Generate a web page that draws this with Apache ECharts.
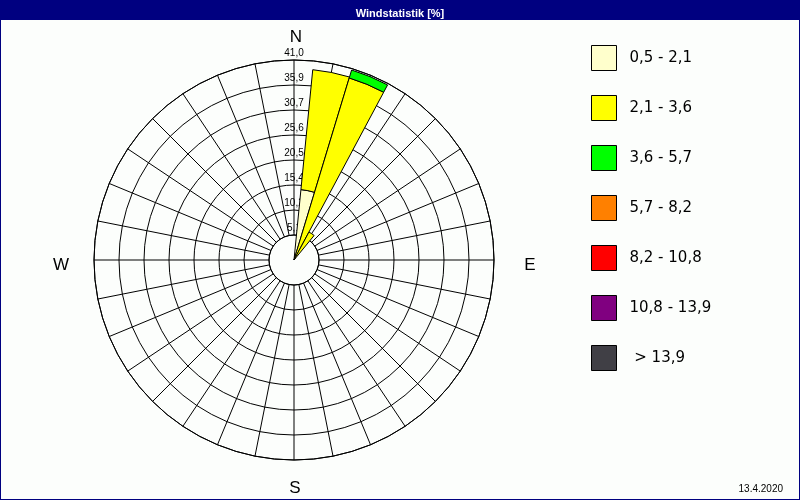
<!DOCTYPE html>
<html>
<head>
<meta charset="utf-8">
<script src="https://cdn.jsdelivr.net/npm/echarts@6/dist/echarts.min.js"></script>
<style>
html,body{margin:0;padding:0;background:#fcfefc;}
#chart{width:800px;height:500px;}
</style>
</head>
<body>
<div id="chart"></div>
<script>
// 32 wind directions, clockwise from north
const directions = ['N','NzO','NNO','NOzN','NO','NOzO','ONO','OzN','O','OzS','OSO','SOzO','SO','SOzS','SSO','SzO',
                    'S','SzW','SSW','SWzS','SW','SWzW','WSW','WzS','W','WzN','WNW','NWzW','NW','NWzN','NNW','NzW'];
// speed classes (legend)
const speedClasses = ['0,5 - 2,1','2,1 - 3,6','3,6 - 5,7','5,7 - 8,2','8,2 - 10,8','10,8 - 13,9',' > 13,9'];
const classColors = ['#ffffcc','#ffff00','#00ff00','#ff8000','#ff0000','#800080','#403f45'];
// frequency [%] per direction for each class
const cls1 = [0,14.5,0.4,0.5,0,0,0,0,0,0,0,0,0,0,0,0,0,0,0,0,0,0,0,0,0,0,0,0,0,0,0,0];
const cls2 = [0,24.7,38.6,6.0,0,0,0,0,0,0,0,0,0,0,0,0,0,0,0,0,0,0,0,0,0,0,0,0,0,0,0,0];
const cls3 = [0,0,1.7,0,0,0,0,0,0,0,0,0,0,0,0,0,0,0,0,0,0,0,0,0,0,0,0,0,0,0,0,0];
const cls4 = [0,0,0,0,0,0,0,0,0,0,0,0,0,0,0,0,0,0,0,0,0,0,0,0,0,0,0,0,0,0,0,0];
const cls5 = [0,0,0,0,0,0,0,0,0,0,0,0,0,0,0,0,0,0,0,0,0,0,0,0,0,0,0,0,0,0,0,0];
const cls6 = [0,0,0,0,0,0,0,0,0,0,0,0,0,0,0,0,0,0,0,0,0,0,0,0,0,0,0,0,0,0,0,0];
const cls7 = [0,0,0,0,0,0,0,0,0,0,0,0,0,0,0,0,0,0,0,0,0,0,0,0,0,0,0,0,0,0,0,0];
// ring labels
const ringLabels = ['5,1','10,2','15,4','20,5','25,6','30,7','35,9','41,0'];
const ringStep = 5.125;
const radiusMax = 41;
const compass = ['N','E','S','W'];
const titleText = 'Windstatistik [%]';
const dateText = '13.4.2020';

const classData = [cls1,cls2,cls3,cls4,cls5,cls6,cls7];
const CX = 294, CY = 260, R = 200, R0 = 25;
const sector = 360 / directions.length;

const series = speedClasses.map((name, i) => ({
  name: name,
  type: 'bar',
  coordinateSystem: 'polar',
  polarIndex: 1,
  stack: 'wind',
  barCategoryGap: '0%',
  z: 5,
  itemStyle: {color: classColors[i], borderColor: '#000', borderWidth: 1},
  emphasis: {disabled: true},
  data: classData[i].map(v => v > 0 ? v : null)
}));

const chart = echarts.init(document.getElementById('chart'), null, {renderer: 'canvas'});
chart.setOption({
  animation: false,
  backgroundColor: '#fcfefc',
  title: {
    text: titleText, left: 'center', top: 3,
    textStyle: {color: '#ffffff', fontSize: 11, fontWeight: 'bold', fontFamily: 'Liberation Sans'}
  },
  legend: {
    orient: 'vertical', left: 591, top: 45, padding: 0,
    itemWidth: 25, itemHeight: 25, itemGap: 24, icon: 'rect',
    selectedMode: false,
    itemStyle: {borderColor: '#000', borderWidth: 1},
    textStyle: {fontSize: 15, fontFamily: 'DejaVu Sans', color: '#000', padding: [0,0,0,8]},
    data: speedClasses
  },
  polar: [
    {center: [CX, CY], radius: [R0, R]},
    {center: [CX, CY], radius: [0, R]}
  ],
  angleAxis: [
    {
      polarIndex: 0, type: 'value', min: 0, max: 360, interval: sector,
      startAngle: 90, clockwise: true,
      axisLine: {show: true, lineStyle: {color: '#000', width: 1}},
      axisTick: {show: false}, axisLabel: {show: false},
      splitLine: {show: true, lineStyle: {color: '#000', width: 1}}
    },
    {
      polarIndex: 1, type: 'category', data: directions,
      startAngle: 90 + sector / 2, clockwise: true,
      axisLine: {show: false}, axisTick: {show: false}, axisLabel: {show: false},
      splitLine: {show: false}
    }
  ],
  radiusAxis: [
    {
      polarIndex: 0, type: 'value', min: ringStep, max: radiusMax, interval: ringStep,
      axisLine: {show: false}, axisTick: {show: false},
      splitLine: {show: true, lineStyle: {color: '#000', width: 1}},
      axisLabel: {
        show: true, showMinLabel: true, showMaxLabel: true, margin: 0,
        align: 'center', verticalAlign: 'bottom', padding: [0,0,2,0],
        fontSize: 10, fontFamily: 'Liberation Sans', color: '#000',
        formatter: v => ringLabels[Math.round(v / ringStep) - 1] || ''
      },
      z: 1
    },
    {
      polarIndex: 1, type: 'value', min: 0, max: radiusMax, show: false
    }
  ],
  graphic: [
    {type: 'rect', shape: {x: 0, y: 0, width: 800, height: 20}, style: {fill: '#000080'}, z: -10},
    {type: 'rect', shape: {x: 0, y: 0, width: 800, height: 500}, style: {fill: null, stroke: '#000080', lineWidth: 2}, z: 10},
    {type: 'text', x: 296, y: 37, style: {text: compass[0], font: '17px "Liberation Sans"', fill: '#000', textAlign: 'center', textVerticalAlign: 'middle'}},
    {type: 'text', x: 530, y: 265, style: {text: compass[1], font: '17px "Liberation Sans"', fill: '#000', textAlign: 'center', textVerticalAlign: 'middle'}},
    {type: 'text', x: 295, y: 488, style: {text: compass[2], font: '17px "Liberation Sans"', fill: '#000', textAlign: 'center', textVerticalAlign: 'middle'}},
    {type: 'text', x: 61, y: 265, style: {text: compass[3], font: '17px "Liberation Sans"', fill: '#000', textAlign: 'center', textVerticalAlign: 'middle'}},
    {type: 'text', x: 783, y: 489, style: {text: dateText, font: '10px "Liberation Sans"', fill: '#000', textAlign: 'right', textVerticalAlign: 'middle'}}
  ],
  series: series
});
</script>
</body>
</html>
